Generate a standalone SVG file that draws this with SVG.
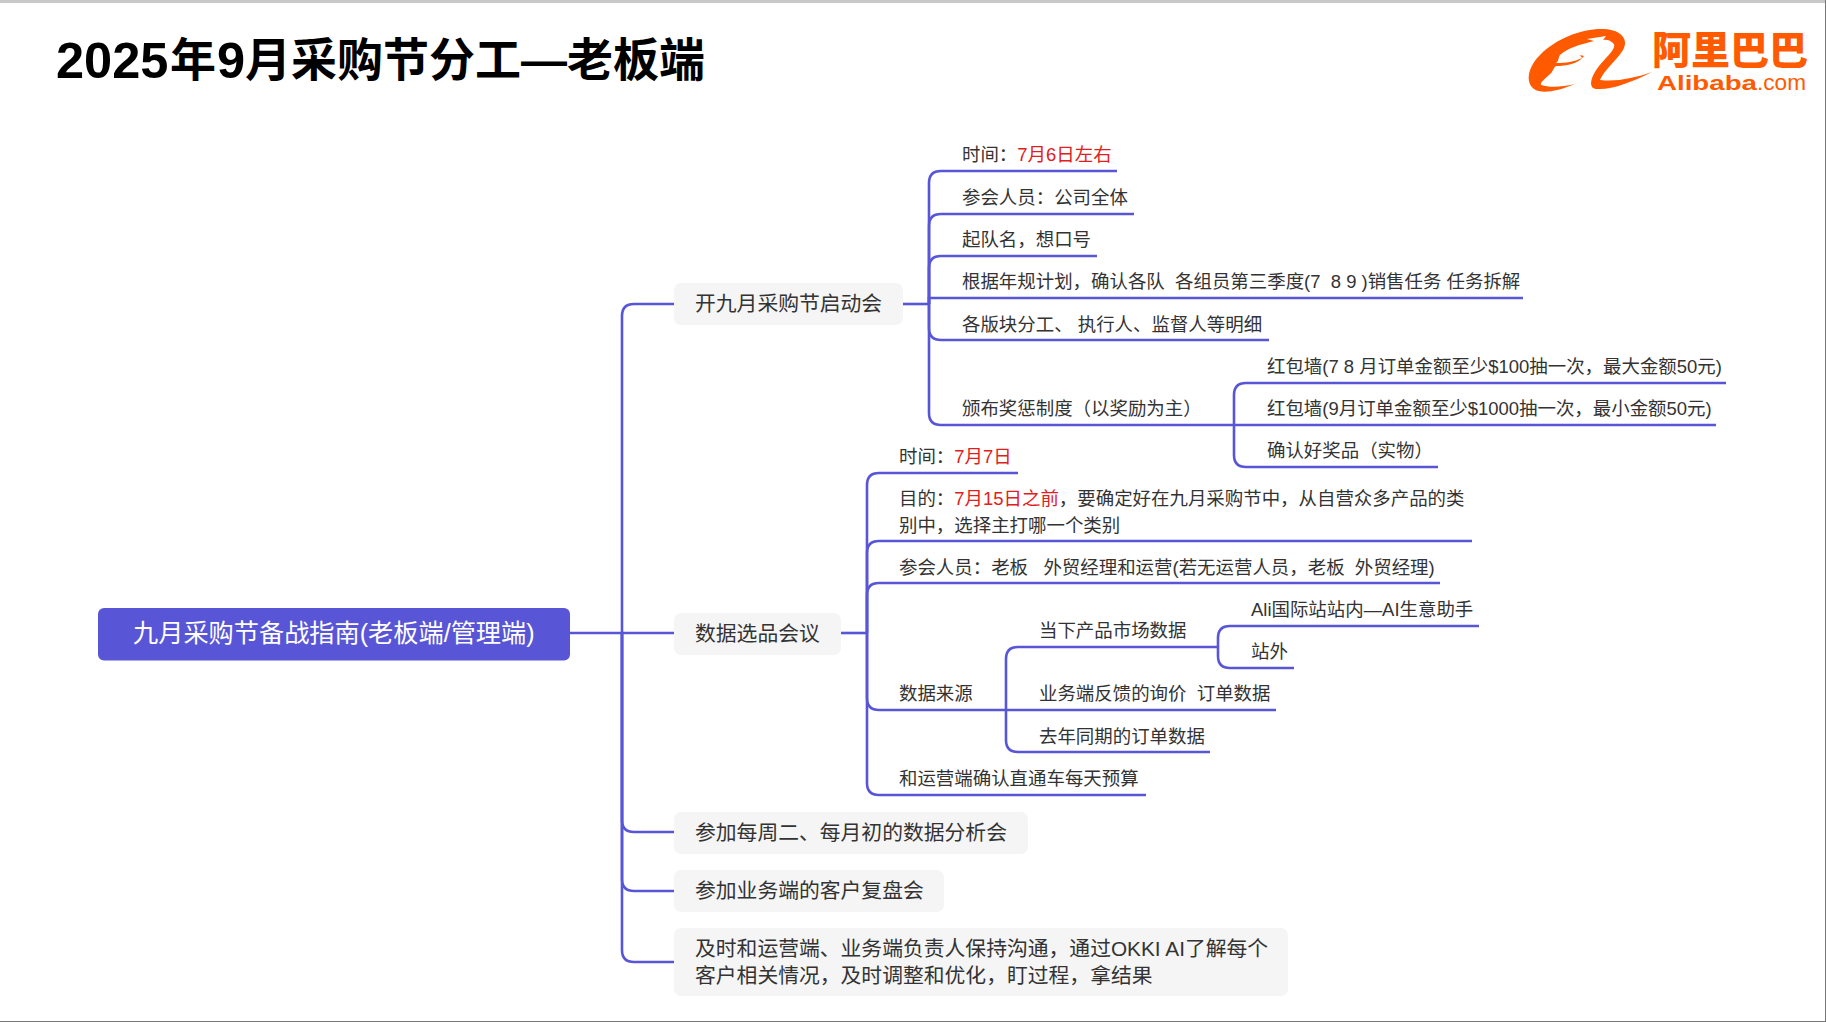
<svg xmlns="http://www.w3.org/2000/svg" width="1826" height="1022" viewBox="0 0 1826 1022">
<style>
text{font-family:"Liberation Sans","Noto Sans CJK SC",sans-serif;white-space:pre}
.t{font-size:18.45px;fill:#333}
.n{font-size:20.8px;fill:#333}
.r{fill:#e02020}
.c{fill:none;stroke:#5856d6;stroke-width:2.6}
.b{fill:#f5f5f5}
.h{font-weight:700;fill:#000}
.o{fill:#ff5a00}
</style>
<rect width="1826" height="1022" fill="#fff"/>
<rect x="0" y="0" width="1826" height="3" fill="#c8c8c8"/>
<rect x="0" y="1021" width="1826" height="1" fill="#777"/>
<rect x="1825" y="0" width="1" height="1022" fill="#777"/>
<text id="title" class="h" x="56" y="78" font-size="50.500">2025<tspan x="170" y="76" font-size="46">年</tspan><tspan x="217" y="78">9</tspan><tspan x="245" y="76" font-size="46">月采购节分工—老板端</tspan></text>
<g id="logo">
<path class="o" d="M1575 84C1556 92 1541 94 1534 89C1525 82 1528 67 1540 55C1556 38 1584 28 1604 29C1622 30 1629 40 1623 50C1617 60 1604 70 1600 80C1616 82 1635 78 1652 72C1632 82 1612 90 1597 89C1589 89 1590 80 1595 72C1602 60 1619 48 1613 43C1610 40 1606 39 1603 40L1606 36L1587 39L1594 41C1578 45 1568 48 1560 55C1558 58 1559 61 1556 63C1566 63 1574 62 1582 58L1580 55L1584 56C1578 64 1566 66 1556 66C1553 68 1553 72 1550 74C1546 78 1540 82 1541 85C1550 88 1562 87 1575 84Z"/>
<text class="o" x="1652" y="64" font-size="39" font-weight="900">阿里巴巴</text>
<text class="o" x="1657" y="90" font-size="21" font-weight="700" textLength="100" lengthAdjust="spacingAndGlyphs">Alibaba</text>
<text class="o" x="1757" y="90" font-size="21.500" textLength="49" lengthAdjust="spacingAndGlyphs">.com</text>
</g>
<g id="connectors">
<path class="c" d="M570 633H674"/>
<path class="c" d="M622 633V316Q622 304 634 304H674"/>
<path class="c" d="M622 633V820Q622 832 634 832H674"/>
<path class="c" d="M622 633V879Q622 891 634 891H674"/>
<path class="c" d="M622 633V950Q622 962 634 962H674"/>
<path class="c" d="M903 304H929"/>
<path class="c" d="M929 304V183Q929 171 941 171H1117"/>
<path class="c" d="M929 304V226Q929 214 941 214H1134"/>
<path class="c" d="M929 304V268Q929 256 941 256H1097"/>
<path class="c" d="M929 304V298H1523"/>
<path class="c" d="M929 304V328Q929 340 941 340H1269"/>
<path class="c" d="M929 304V413Q929 425 941 425H1234"/>
<path class="c" d="M1234 425V395Q1234 383 1246 383H1726"/>
<path class="c" d="M1234 425H1716"/>
<path class="c" d="M1234 425V455Q1234 467 1246 467H1438"/>
<path class="c" d="M841 633H867"/>
<path class="c" d="M867 633V485Q867 473 879 473H1018"/>
<path class="c" d="M867 633V553Q867 541 879 541H1472"/>
<path class="c" d="M867 633V595Q867 583 879 583H1440"/>
<path class="c" d="M867 633V698Q867 710 879 710H1006"/>
<path class="c" d="M867 633V783Q867 795 879 795H1146"/>
<path class="c" d="M1006 710V659Q1006 647 1018 647H1218"/>
<path class="c" d="M1006 710H1276"/>
<path class="c" d="M1006 710V740Q1006 752 1018 752H1210"/>
<path class="c" d="M1218 647V638Q1218 626 1230 626H1479"/>
<path class="c" d="M1218 647V656Q1218 668 1230 668H1294"/>
</g>
<g id="root"><rect x="98" y="608" width="472" height="52.500" rx="6" fill="#5856d6"/><text x="133" y="642" font-size="25.200" fill="#fff">九月采购节备战指南(老板端/管理端)</text></g>
<g id="n1"><rect class="b" x="674" y="283" width="229" height="42" rx="7"/><text class="n" x="695" y="311">开九月采购节启动会</text></g>
<g id="n2"><rect class="b" x="674" y="613" width="167" height="42" rx="7"/><text class="n" x="695" y="641">数据选品会议</text></g>
<g id="n3"><rect class="b" x="674" y="812" width="354" height="42" rx="7"/><text class="n" x="695" y="840">参加每周二、每月初的数据分析会</text></g>
<g id="n4"><rect class="b" x="674" y="870" width="270" height="42" rx="7"/><text class="n" x="695" y="898">参加业务端的客户复盘会</text></g>
<g id="n5"><rect class="b" x="674" y="928" width="614" height="68" rx="7"/><text class="n" x="695" y="956">及时和运营端、业务端负责人保持沟通，通过OKKI AI了解每个</text><text class="n" x="695" y="983">客户相关情况，及时调整和优化，盯过程，拿结果</text></g>
<g id="a1"><text class="t" x="962" y="161">时间：<tspan class="r">7月6日左右</tspan></text></g>
<g id="a2"><text class="t" x="962" y="203.500">参会人员：公司全体</text></g>
<g id="a3"><text class="t" x="962" y="246">起队名，想口号</text></g>
<g id="a4"><text class="t" x="962" y="288">根据年规计划，确认各队  各组员第三季度(7  8 9 )销售任务 任务拆解</text></g>
<g id="a5"><text class="t" x="962" y="330.500">各版块分工、 执行人、监督人等明细</text></g>
<g id="a6"><text class="t" x="962" y="415">颁布奖惩制度（以奖励为主）</text></g>
<g id="a61"><text class="t" x="1267" y="372.500">红包墙(7 8 月订单金额至少$100抽一次，最大金额50元)</text></g>
<g id="a62"><text class="t" x="1267" y="415">红包墙(9月订单金额至少$1000抽一次，最小金额50元)</text></g>
<g id="a63"><text class="t" x="1267" y="457">确认好奖品（实物）</text></g>
<g id="b1"><text class="t" x="899" y="463">时间：<tspan class="r">7月7日</tspan></text></g>
<g id="b2"><text class="t" x="899" y="505">目的：<tspan class="r">7月15日之前</tspan>，要确定好在九月采购节中，从自营众多产品的类</text><text class="t" x="899" y="532">别中，选择主打哪一个类别</text></g>
<g id="b3"><text class="t" x="899" y="574">参会人员：老板   外贸经理和运营(若无运营人员，老板  外贸经理)</text></g>
<g id="b4"><text class="t" x="899" y="700">数据来源</text></g>
<g id="b41"><text class="t" x="1039" y="637">当下产品市场数据</text></g>
<g id="b411"><text class="t" x="1251" y="616">Ali国际站站内—AI生意助手</text></g>
<g id="b412"><text class="t" x="1251" y="658">站外</text></g>
<g id="b42"><text class="t" x="1039" y="700">业务端反馈的询价  订单数据</text></g>
<g id="b43"><text class="t" x="1039" y="743">去年同期的订单数据</text></g>
<g id="b5"><text class="t" x="899" y="785">和运营端确认直通车每天预算</text></g>
</svg>
